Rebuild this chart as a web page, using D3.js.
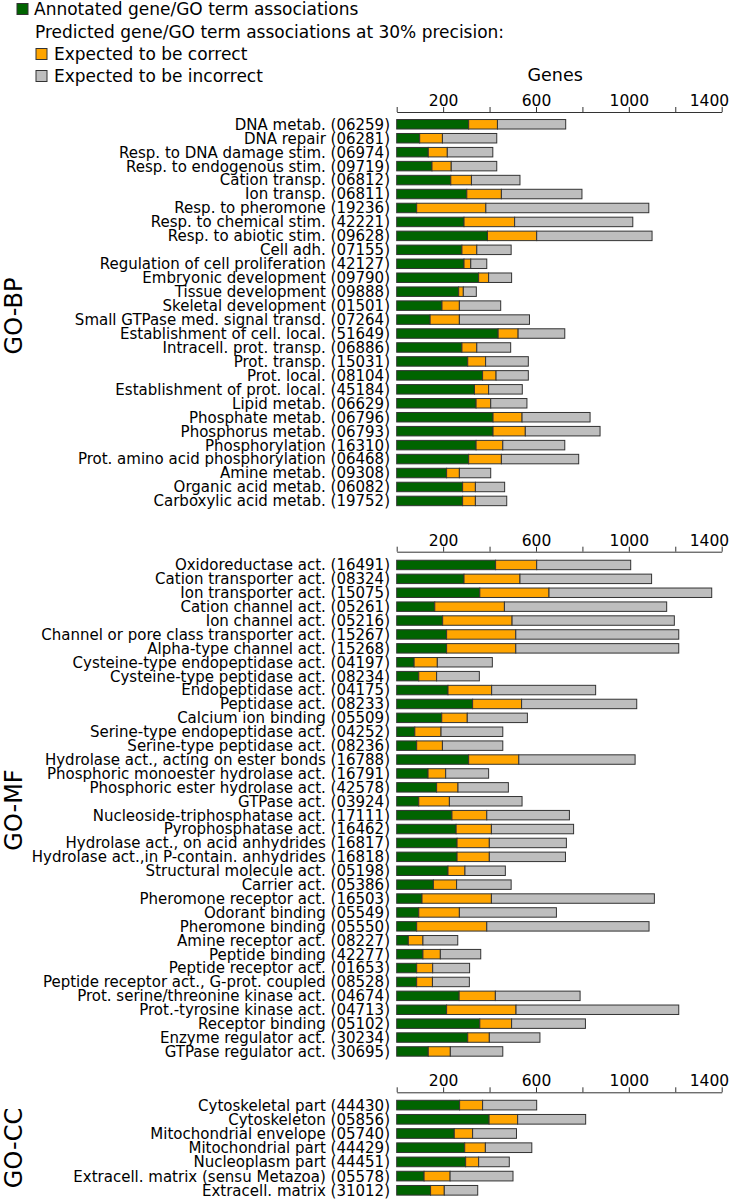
<!DOCTYPE html>
<html>
<head>
<meta charset="utf-8">
<script src="https://cdn.jsdelivr.net/npm/d3@7"></script>
<style>
  html, body { margin: 0; padding: 0; background: #fff; }
  text { font-family: "DejaVu Sans", Verdana, sans-serif; fill: #000; }
</style>
</head>
<body>
<svg id="chart" width="737" height="1200"></svg>
<script>
// ---------------- DATA ----------------
const seriesNames = ["Annotated gene/GO term associations", "Expected to be correct", "Expected to be incorrect"];
const legendSubtitle = "Predicted gene/GO term associations at 30% precision:";
const axisTitle = "Genes";
const tickValues = [0, 200, 400, 600, 800, 1000, 1200, 1400];
const tickLabels = [200, 600, 1000, 1400];

const bpCategories = [
  "DNA metab. (06259)", "DNA repair (06281)", "Resp. to DNA damage stim. (06974)",
  "Resp. to endogenous stim. (09719)", "Cation transp. (06812)", "Ion transp. (06811)",
  "Resp. to pheromone (19236)", "Resp. to chemical stim. (42221)", "Resp. to abiotic stim. (09628)",
  "Cell adh. (07155)", "Regulation of cell proliferation (42127)", "Embryonic development (09790)",
  "Tissue development (09888)", "Skeletal development (01501)", "Small GTPase med. signal transd. (07264)",
  "Establishment of cell. local. (51649)", "Intracell. prot. transp. (06886)", "Prot. transp. (15031)",
  "Prot. local. (08104)", "Establishment of prot. local. (45184)", "Lipid metab. (06629)",
  "Phosphate metab. (06796)", "Phosphorus metab. (06793)", "Phosphorylation (16310)",
  "Prot. amino acid phosphorylation (06468)", "Amine metab. (09308)", "Organic acid metab. (06082)",
  "Carboxylic acid metab. (19752)"
];
const bpAnnotated = [310, 99, 136, 152, 233, 302, 86, 290, 391, 281, 290, 353, 267, 195, 144, 437, 281, 306, 370, 335, 342, 415, 415, 342, 310, 215, 284, 284];
const bpCorrect   = [124, 98, 82, 83, 89, 149, 298, 218, 212, 64, 29, 43, 20, 75, 126, 86, 64, 77, 58, 61, 63, 125, 139, 115, 141, 55, 55, 55];
const bpIncorrect = [294, 234, 196, 196, 209, 347, 702, 509, 497, 148, 69, 99, 56, 178, 302, 201, 146, 184, 139, 145, 156, 293, 322, 267, 333, 135, 126, 135];

const mfCategories = [
  "Oxidoreductase act. (16491)", "Cation transporter act. (08324)", "Ion transporter act. (15075)",
  "Cation channel act. (05261)", "Ion channel act. (05216)", "Channel or pore class transporter act. (15267)",
  "Alpha-type channel act. (15268)", "Cysteine-type endopeptidase act. (04197)", "Cysteine-type peptidase act. (08234)",
  "Endopeptidase act. (04175)", "Peptidase act. (08233)", "Calcium ion binding (05509)",
  "Serine-type endopeptidase act. (04252)", "Serine-type peptidase act. (08236)", "Hydrolase act., acting on ester bonds (16788)",
  "Phosphoric monoester hydrolase act. (16791)", "Phosphoric ester hydrolase act. (42578)", "GTPase act. (03924)",
  "Nucleoside-triphosphatase act. (17111)", "Pyrophosphatase act. (16462)", "Hydrolase act., on acid anhydrides (16817)",
  "Hydrolase act.,in P-contain. anhydrides (16818)", "Structural molecule act. (05198)", "Carrier act. (05386)",
  "Pheromone receptor act. (16503)", "Odorant binding (05549)", "Pheromone binding (05550)",
  "Amine receptor act. (08227)", "Peptide binding (42277)", "Peptide receptor act. (01653)",
  "Peptide receptor act., G-prot. coupled (08528)", "Prot. serine/threonine kinase act. (04674)", "Prot.-tyrosine kinase act. (04713)",
  "Receptor binding (05102)", "Enzyme regulator act. (30234)", "GTPase regulator act. (30695)"
];
const mfAnnotated = [426, 290, 358, 164, 198, 215, 215, 75, 95, 221, 327, 194, 78, 86, 310, 135, 172, 95, 238, 256, 260, 260, 221, 158, 109, 95, 86, 50, 113, 86, 86, 269, 215, 358, 306, 136];
const mfCorrect   = [177, 241, 298, 300, 299, 298, 298, 100, 77, 188, 211, 110, 113, 111, 216, 76, 92, 132, 150, 152, 139, 139, 73, 100, 299, 175, 302, 63, 75, 69, 68, 156, 299, 137, 93, 95];
const mfIncorrect = [405, 567, 701, 699, 699, 702, 702, 237, 184, 448, 496, 259, 266, 260, 501, 185, 217, 313, 356, 354, 332, 328, 174, 235, 702, 418, 699, 150, 174, 159, 159, 365, 701, 318, 218, 226];

const ccCategories = [
  "Cytoskeletal part (44430)", "Cytoskeleton (05856)", "Mitochondrial envelope (05740)",
  "Mitochondrial part (44429)", "Nucleoplasm part (44451)", "Extracell. matrix (sensu Metazoa) (05578)",
  "Extracell. matrix (31012)"
];
const ccAnnotated = [271, 398, 248, 293, 297, 118, 146];
const ccCorrect   = [99, 123, 79, 89, 56, 112, 59];
const ccIncorrect = [233, 293, 189, 200, 132, 271, 144];

const panelNames = ["GO-BP", "GO-MF", "GO-CC"];

// ---------------- LAYOUT ----------------
const colors = ["#006400", "#ffa500", "#bebebe"];
const strokeColor = "#333";
const svg = d3.select("#chart");

const x = d3.scaleLinear().domain([0, 1400]).range([396.7, 721.7]);

const panels = [
  {name: panelNames[0], cats: bpCategories, vals: [bpAnnotated, bpCorrect, bpIncorrect], axisY: 112, top: 117.3, step: 13.95, labelY: 316, title: true},
  {name: panelNames[1], cats: mfCategories, vals: [mfAnnotated, mfCorrect, mfIncorrect], axisY: 551.7, top: 558.0, step: 13.9, labelY: 810, title: false},
  {name: panelNames[2], cats: ccCategories, vals: [ccAnnotated, ccCorrect, ccIncorrect], axisY: 1092.3, top: 1098.0, step: 14.2, labelY: 1148, title: false}
];

panels.forEach(p => {
  const n = p.cats.length;
  const pad = 0.32;
  const y = d3.scaleBand().domain(p.cats)
    .range([p.top, p.top + n * p.step])
    .paddingInner(pad).paddingOuter(pad / 2);

  // axis
  const axis = d3.axisTop(x).tickValues(tickValues).tickSize(5).tickSizeOuter(0).tickPadding(1)
    .tickFormat(d => tickLabels.includes(d) ? d : "");
  const ag = svg.append("g").attr("transform", `translate(0,${p.axisY})`).call(axis);
  ag.select(".domain").attr("stroke", strokeColor).attr("stroke-width", 1);
  ag.selectAll(".tick line").attr("stroke", strokeColor);
  ag.selectAll(".tick text").style("font-size", "15.5px").attr("font-family", null).attr("fill", "#000")
    .filter(d => d === 1400).attr("text-anchor", "end").attr("dx", "7");

  if (p.title) {
    svg.append("text").attr("x", x(700) - 4).attr("y", p.axisY - 31)
      .attr("text-anchor", "middle").style("font-size", "17.5px").text(axisTitle);
  }

  // stacked data
  const rows = p.cats.map((c, i) => {
    let acc = 0;
    return p.vals.map((arr, k) => {
      const seg = {cat: c, k, x0: acc, x1: acc + arr[i]};
      acc += arr[i];
      return seg;
    });
  }).flat();

  svg.append("g").selectAll("rect").data(rows).join("rect")
    .attr("x", d => x(d.x0))
    .attr("y", d => y(d.cat))
    .attr("width", d => x(d.x1) - x(d.x0))
    .attr("height", y.bandwidth())
    .attr("fill", d => colors[d.k])
    .attr("stroke", strokeColor)
    .attr("stroke-width", 1);

  // category labels
  svg.append("g").selectAll("text").data(p.cats).join("text")
    .attr("x", 390)
    .attr("y", d => y(d) + y.bandwidth() / 2)
    .attr("dy", "0.36em")
    .attr("text-anchor", "end")
    .style("font-size", "15px")
    .text(d => d);

  // panel label
  svg.append("text")
    .attr("transform", `translate(22,${p.labelY}) rotate(-90)`)
    .attr("text-anchor", "middle")
    .style("font-size", "24px")
    .text(p.name);
});

// ---------------- LEGEND ----------------
const legendItems = [
  {label: seriesNames[0], color: colors[0], sx: 17, tx: 34, y: 9},
  {label: seriesNames[1], color: colors[1], sx: 36, tx: 54, y: 54},
  {label: seriesNames[2], color: colors[2], sx: 36, tx: 54, y: 76}
];
const lg = svg.append("g");
lg.selectAll("rect").data(legendItems).join("rect")
  .attr("x", d => d.sx).attr("y", d => d.y - 5.5).attr("width", 11).attr("height", 11)
  .attr("fill", d => d.color).attr("stroke", strokeColor).attr("stroke-width", 1);
lg.selectAll("text.item").data(legendItems).join("text").attr("class", "item")
  .attr("x", d => d.tx).attr("y", d => d.y).attr("dy", "0.36em")
  .style("font-size", "17px").text(d => d.label);
lg.append("text").attr("x", 35).attr("y", 32).attr("dy", "0.36em")
  .style("font-size", "17px").text(legendSubtitle);
</script>
</body>
</html>
